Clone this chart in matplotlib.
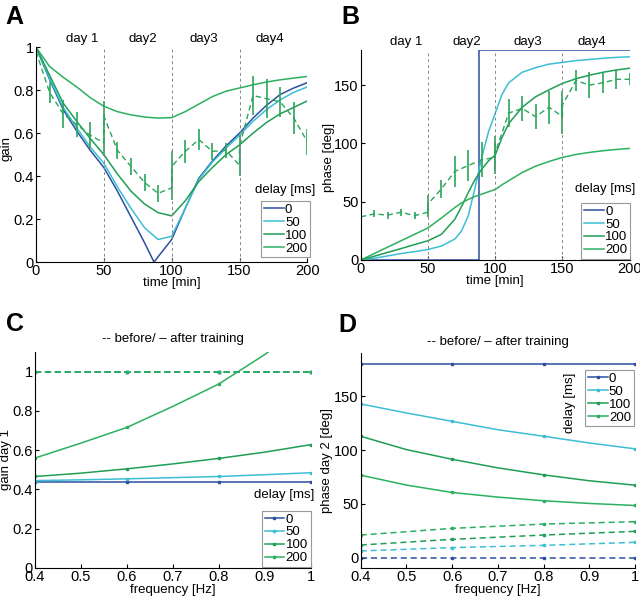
import numpy as np
import matplotlib
matplotlib.use("Agg")
import matplotlib.pyplot as plt
from matplotlib.ticker import FuncFormatter

plt.rcParams['font.family'] = ['Liberation Sans', 'DejaVu Sans']
plt.rcParams['font.size'] = 9

# colours per delay
delays = ['0', '50', '100', '200']
cols = ['#2c4fa0', '#3cbfd4', '#1f9e55', '#2bb060']
dash = (4, 2.5)

# --- panel A: gain vs time ---
t_fit = [0, 10, 20, 30, 40, 50, 60, 70, 80, 90, 100, 110, 120, 130, 140, 150, 160, 170, 180, 190, 200]
t_fit0 = [0, 10, 20, 30, 40, 50, 60, 70, 80, 87, 90, 100, 110, 120, 130, 140, 150, 160, 170, 180, 190, 200]
gain0 = [1.0, 0.85, 0.71, 0.61, 0.52, 0.44, 0.33, 0.21, 0.09, 0.0, 0.025, 0.105, 0.25, 0.39, 0.47, 0.54, 0.60, 0.67, 0.73, 0.78, 0.81, 0.835]
gain50 = [1.0, 0.855, 0.72, 0.625, 0.535, 0.46, 0.35, 0.25, 0.16, 0.105, 0.12, 0.25, 0.385, 0.465, 0.53, 0.59, 0.655, 0.71, 0.755, 0.79, 0.815]
gain100 = [1.0, 0.87, 0.74, 0.655, 0.575, 0.50, 0.41, 0.33, 0.27, 0.23, 0.215, 0.285, 0.375, 0.44, 0.50, 0.545, 0.60, 0.65, 0.69, 0.72, 0.75]
gain200 = [1.0, 0.91, 0.86, 0.815, 0.765, 0.725, 0.70, 0.685, 0.675, 0.67, 0.672, 0.70, 0.735, 0.77, 0.795, 0.81, 0.825, 0.838, 0.848, 0.856, 0.864]

t_obs = [0, 10, 20, 30, 40, 50, 50, 60, 70, 80, 90, 100, 100, 110, 120, 130, 140, 150, 150, 160, 170, 180, 190, 200]
gain_obs = [0.98, 0.79, 0.69, 0.64, 0.59, 0.555, 0.68, 0.52, 0.445, 0.37, 0.32, 0.345, 0.445, 0.515, 0.57, 0.515, 0.52, 0.45, 0.54, 0.775, 0.76, 0.745, 0.67, 0.56]
gain_err = [0.04, 0.05, 0.065, 0.06, 0.06, 0.06, 0.07, 0.04, 0.04, 0.04, 0.04, 0.055, 0.07, 0.055, 0.05, 0.04, 0.035, 0.05, 0.05, 0.09, 0.09, 0.07, 0.075, 0.06]

# --- panel B: phase vs time ---
t_step0 = [0, 88, 88, 200]
phase0 = [0, 0, 180, 180]
t_fitB = [0, 10, 20, 30, 40, 50, 60, 70, 75, 80, 85, 90, 95, 100, 105, 110, 120, 130, 140, 150, 160, 170, 180, 190, 200]
phase50 = [0, 1.5, 3.5, 5.5, 7.2, 9, 12, 18, 25, 38, 62, 88, 110, 126, 142, 152, 161, 165, 168, 169.5, 171, 172, 173, 173.8, 174.3]
phase100 = [0, 3.2, 6.5, 9.8, 13.2, 16.5, 22, 35, 46, 58, 69, 78, 85, 90, 105, 117, 131, 140, 146, 151.5, 155.5, 158.5, 161, 163, 164.5]
phase200 = [0, 5.5, 11, 16.5, 22, 27.5, 36, 45, 49, 52, 54.5, 56.5, 58.5, 60.5, 64.5, 68, 75, 80.5, 84.5, 88, 90.5, 92.3, 93.7, 94.8, 95.7]

phase_obs = [37, 39.5, 38.5, 41, 38, 41, 48, 61, 76, 81, 86, 88, 92, 126, 130, 123, 131, 123, 133, 154, 150, 152, 155, 155]
phase_err = [3, 3, 3, 3, 3, 4, 8, 8, 13, 13, 15, 14, 14, 12, 11, 11, 14, 15, 12, 9, 11, 9, 8, 5]

day_labels = ['day 1', 'day2', 'day3', 'day4']
day_label_t = [34, 79, 124, 172]
day_bounds = [50, 100, 150]

# --- panel C/D: vs frequency ---
freq = [0.4, 0.5, 0.6, 0.7, 0.8, 0.9, 1.0]
freq_pts = [0.4, 0.6, 0.8, 1.0]
gainC = [
    [0.437, 0.437, 0.437, 0.437, 0.437, 0.437, 0.437],
    [0.445, 0.449, 0.454, 0.46, 0.466, 0.475, 0.485],
    [0.466, 0.483, 0.505, 0.53, 0.558, 0.59, 0.628],
    [0.56, 0.636, 0.716, 0.823, 0.937, 1.087, 1.26],
]
gainC_before = [1.0, 1.0, 1.0, 1.0]
phaseD = [
    [180, 180, 180, 180, 180, 180, 180],
    [143, 134.6, 126.8, 119, 112.9, 106.7, 101.2],
    [112.9, 100.5, 91.5, 83.5, 77, 71.5, 67.4],
    [76.7, 67.5, 60.6, 56.3, 52.9, 50.4, 48.5],
]
phaseD_before = [
    [0, 0, 0, 0],
    [6.2, 9.3, 11.4, 14.2],
    [11.7, 17, 21, 24.4],
    [21, 27.2, 31.2, 33.4],
]

fmt = FuncFormatter(lambda v, p: '%g' % round(v, 3))


def style(ax, xl, yl, xlab_y, ylab_x, ylab_y=0.5):
    for s in ['top', 'right']:
        ax.spines[s].set_visible(False)
    ax.tick_params(direction='in', length=3, labelsize=10.5, pad=1.5)
    ax.xaxis.set_major_formatter(fmt)
    ax.yaxis.set_major_formatter(fmt)
    ax.set_xlabel(xl, fontsize=9.5)
    ax.set_ylabel(yl, fontsize=9.5)
    ax.xaxis.set_label_coords(0.5, xlab_y)
    ax.yaxis.set_label_coords(ylab_x, ylab_y)


def legend_box(ax, handles, anchor, loc='lower left'):
    leg = ax.legend(handles, delays, loc=loc, bbox_to_anchor=anchor, fontsize=9.5,
                    frameon=True, fancybox=False, edgecolor='#999999', handlelength=1.5,
                    handletextpad=0.1, borderpad=0.2, labelspacing=0.05, borderaxespad=0,
                    framealpha=1)
    leg.get_frame().set_linewidth(0.8)
    return leg


fig = plt.figure(figsize=(6.4, 5.97), dpi=100)

# A
axA = fig.add_axes([0.05625, 0.561, 0.424, 0.36])
hA = []
hA.append(axA.plot(t_fit0, gain0, color=cols[0], lw=1.1)[0])
for g, c in zip([gain50, gain100, gain200], cols[1:]):
    hA.append(axA.plot(t_fit, g, color=c, lw=1.1)[0])
axA.errorbar(t_obs, gain_obs, yerr=gain_err, color='#2aa55a', ls='--', dashes=dash, lw=1.0,
             elinewidth=1.2, capsize=0)
for b in day_bounds:
    axA.axvline(b, color='#888888', ls='--', dashes=(3, 3), lw=0.7)
for lab, t in zip(day_labels, day_label_t):
    axA.text(t, 1.037, lab, ha='center', va='center', fontsize=9.5)
axA.set_xlim(0, 200)
axA.set_ylim(0, 1)
axA.set_xticks([0, 50, 100, 150, 200])
axA.set_yticks([0, 0.2, 0.4, 0.6, 0.8, 1])
style(axA, 'time [min]', 'gain', -0.068, -0.085, 0.53)
legend_box(axA, hA, (0.83, 0.023))
axA.text(0.917, 0.336, 'delay [ms]', transform=axA.transAxes, ha='center', va='center', fontsize=9.5)
fig.text(0.009, 0.971, 'A', fontsize=18, fontweight='bold', va='center')

# B
axB = fig.add_axes([0.5636, 0.5645, 0.4204, 0.3515])
hB = []
hB.append(axB.plot(t_step0, phase0, color=cols[0], lw=1.1)[0])
for p, c in zip([phase50, phase100, phase200], cols[1:]):
    hB.append(axB.plot(t_fitB, p, color=c, lw=1.1)[0])
axB.errorbar(t_obs, phase_obs, yerr=phase_err, color='#2aa55a', ls='--', dashes=dash, lw=1.0,
             elinewidth=1.2, capsize=0)
for b in day_bounds:
    axB.axvline(b, color='#888888', ls='--', dashes=(3, 3), lw=0.7)
for lab, t in zip(day_labels, day_label_t):
    axB.text(t, 187, lab, ha='center', va='center', fontsize=9.5)
axB.set_xlim(0, 200)
axB.set_ylim(0, 180)
axB.set_xticks([0, 50, 100, 150, 200])
axB.set_yticks([0, 50, 100, 150])
style(axB, 'time [min]', 'phase [deg]', -0.072, -0.095, 0.49)
legend_box(axB, hB, (0.82, 0.005))
axB.text(0.907, 0.337, 'delay [ms]', transform=axB.transAxes, ha='center', va='center', fontsize=9.5)
fig.text(0.534, 0.971, 'B', fontsize=18, fontweight='bold', va='center')

# C
axC = fig.add_axes([0.0547, 0.0486, 0.4308, 0.3618])
hC = []
for g, c in zip(gainC, cols):
    hC.append(axC.plot(freq, g, color=c, lw=1.1, marker='s', ms=2, markevery=2)[0])
for c in cols:
    axC.plot(freq_pts, gainC_before, color=c, lw=1.1, ls='--', dashes=dash, marker='s', ms=2)
axC.set_xlim(0.4, 1.0)
axC.set_ylim(0, 1.1)
axC.set_xticks([0.4, 0.5, 0.6, 0.7, 0.8, 0.9, 1.0])
axC.set_yticks([0, 0.2, 0.4, 0.6, 0.8, 1])
axC.text(0.5, 1.06, '-- before/ \u2013 after training', transform=axC.transAxes, ha='center',
         va='center', fontsize=9.5)
style(axC, 'frequency [Hz]', 'gain day 1', -0.072, -0.085)
legend_box(axC, hC, (0.823, 0.005))
axC.text(0.904, 0.338, 'delay [ms]', transform=axC.transAxes, ha='center', va='center', fontsize=9.5)
fig.text(0.009, 0.458, 'C', fontsize=18, fontweight='bold', va='center')

# D
axD = fig.add_axes([0.5636, 0.048, 0.4286, 0.36])
hD = []
for p, c in zip(phaseD, cols):
    hD.append(axD.plot(freq, p, color=c, lw=1.1, marker='s', ms=2, markevery=2)[0])
for p, c in zip(phaseD_before, cols):
    axD.plot(freq_pts, p, color=c, lw=1.1, ls='--', dashes=dash, marker='s', ms=2)
axD.set_xlim(0.4, 1.0)
axD.set_ylim(-10, 190)
axD.set_xticks([0.4, 0.5, 0.6, 0.7, 0.8, 0.9, 1.0])
axD.set_yticks([0, 50, 100, 150])
axD.text(0.5, 1.054, '-- before/ \u2013 after training', transform=axD.transAxes, ha='center',
         va='center', fontsize=9.5)
style(axD, 'frequency [Hz]', 'phase day 2 [deg]', -0.072, -0.101)
legend_box(axD, hD, (0.818, 0.922), loc='upper left')
axD.text(0.763, 0.769, 'delay [ms]', transform=axD.transAxes, ha='center', va='center',
         fontsize=9.5, rotation=90)
fig.text(0.528, 0.455, 'D', fontsize=18, fontweight='bold', va='center')

fig.savefig('out.png', dpi=100)
